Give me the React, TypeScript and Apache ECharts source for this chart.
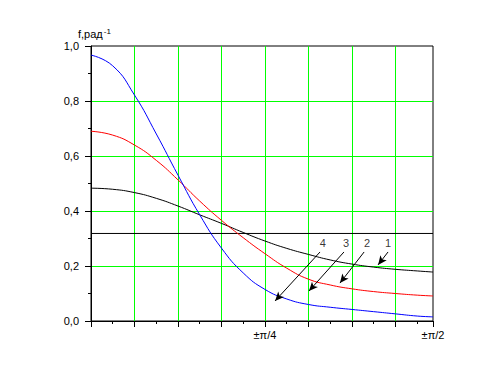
import React, { useEffect, useRef } from "react";
import * as echarts from "echarts";

// angle (rad) sample points
const ANGLE = [0, 0.098, 0.196, 0.295, 0.393, 0.491, 0.589, 0.687, 0.785, 0.884, 0.982, 1.08, 1.178, 1.276, 1.374, 1.473, 1.544];
const X_MAX = 1.544;
const CURVE_1 = [0.483, 0.479, 0.467, 0.446, 0.418, 0.386, 0.355, 0.322, 0.291, 0.264, 0.242, 0.222, 0.207, 0.196, 0.188, 0.182, 0.178];
const CURVE_2 = [0.69, 0.676, 0.64, 0.584, 0.513, 0.436, 0.366, 0.303, 0.245, 0.192, 0.152, 0.131, 0.117, 0.107, 0.1, 0.094, 0.091];
const CURVE_4 = [0.967, 0.928, 0.822, 0.68, 0.53, 0.386, 0.265, 0.175, 0.115, 0.08, 0.06, 0.05, 0.042, 0.034, 0.026, 0.018, 0.015];
const UNIFORM = 1 / Math.PI;

const ARROW_NAMES = ["4", "3", "2", "1"];
const ARROW_FROM = [[1.034, 0.251], [1.142, 0.251], [1.233, 0.251], [1.341, 0.251]];
const ARROW_TO = [[0.831, 0.073], [0.984, 0.109], [1.124, 0.138], [1.296, 0.204]];
const LABEL_POS = [[1.047, 0.284], [1.151, 0.284], [1.246, 0.284], [1.341, 0.284]];

const X_LABELS = [Math.PI / 4, X_MAX];
const X_LABEL_TEXT = ["±π/4", "±π/2"];

const FONT = "Liberation Sans";

export default function App() {
  const ref = useRef<HTMLDivElement>(null);
  useEffect(() => {
    const chart = echarts.init(ref.current!, null, { renderer: "svg" });
    const pair = (ys: number[]) => ANGLE.map((x, i) => [x, ys[i]]);
    const lineSeries = (ys: number[], color: string) => ({
      type: "line",
      data: pair(ys),
      showSymbol: false,
      smooth: 0.5,
      lineStyle: { color, width: 1 },
      z: 3,
    });
    chart.setOption({
      animation: false,
      backgroundColor: "#ffffff",
      grid: {
        left: 91,
        top: 46,
        right: 70,
        bottom: 62,
        show: true,
        borderColor: "#000",
        borderWidth: 1,
        backgroundColor: "transparent",
      },
      xAxis: {
        type: "value",
        min: 0,
        max: X_MAX,
        interval: Math.PI / 16,
        axisLine: { lineStyle: { color: "#000", width: 1 } },
        axisTick: { show: true, length: 6, lineStyle: { color: "#000" } },
        minorTick: { show: true, splitNumber: 2, length: 3, lineStyle: { color: "#000" } },
        splitLine: { show: true, showMinLine: false, showMaxLine: false, lineStyle: { color: "#00ff00", width: 1 } },
        axisLabel: {
          customValues: X_LABELS,
          margin: 8,
          fontFamily: FONT,
          fontSize: 11,
          color: "#000",
          formatter: (v: number) => {
            const i = X_LABELS.findIndex((x) => Math.abs(x - v) < 1e-3);
            return i >= 0 ? X_LABEL_TEXT[i] : "";
          },
        },
      },
      yAxis: {
        type: "value",
        min: 0,
        max: 1,
        interval: 0.2,
        axisLine: { show: true, lineStyle: { color: "#000", width: 1 } },
        axisTick: { show: true, length: 6, lineStyle: { color: "#000" } },
        minorTick: { show: true, splitNumber: 2, length: 3, lineStyle: { color: "#000" } },
        splitLine: { show: true, showMinLine: false, showMaxLine: false, lineStyle: { color: "#00ff00", width: 1 } },
        axisLabel: {
          margin: 12,
          fontFamily: FONT,
          fontSize: 11,
          color: "#000",
          formatter: (v: number) => v.toFixed(1).replace(".", ","),
        },
      },
      graphic: [
        {
          type: "text",
          left: 78,
          top: 27,
          style: {
            text: "{a|f,рад}{b|-1}",
            rich: {
              a: { fontFamily: FONT, fontSize: 11, fill: "#000" },
              b: { fontFamily: FONT, fontSize: 8, fill: "#000", verticalAlign: "top", padding: [0, 0, 6, 1] },
            },
          },
        },
      ],
      series: [
        {
          type: "line",
          data: [[0, UNIFORM], [X_MAX, UNIFORM]],
          showSymbol: false,
          lineStyle: { color: "#000", width: 1 },
          z: 2,
        },
        lineSeries(CURVE_1, "#000000"),
        lineSeries(CURVE_2, "#ff0000"),
        lineSeries(CURVE_4, "#0000ff"),
        {
          type: "scatter",
          symbolSize: 0,
          data: LABEL_POS.map((p, i) => ({ value: p, name: ARROW_NAMES[i] })),
          label: {
            show: true,
            position: "inside",
            formatter: "{b}",
            fontFamily: FONT,
            fontSize: 11,
            color: "#000",
          },
          markLine: {
            silent: true,
            symbol: ["none", "arrow"],
            symbolSize: [6, 9],
            label: { show: false },
            lineStyle: { color: "#000", width: 1, type: "solid" },
            data: ARROW_FROM.map((p, i) => [{ coord: p }, { coord: ARROW_TO[i] }]),
          },
          z: 4,
        },
      ],
    });
    return () => chart.dispose();
  }, []);
  return <div ref={ref} style={{ width: 503, height: 383, position: "absolute", left: 0, top: 0 }} />;
}
